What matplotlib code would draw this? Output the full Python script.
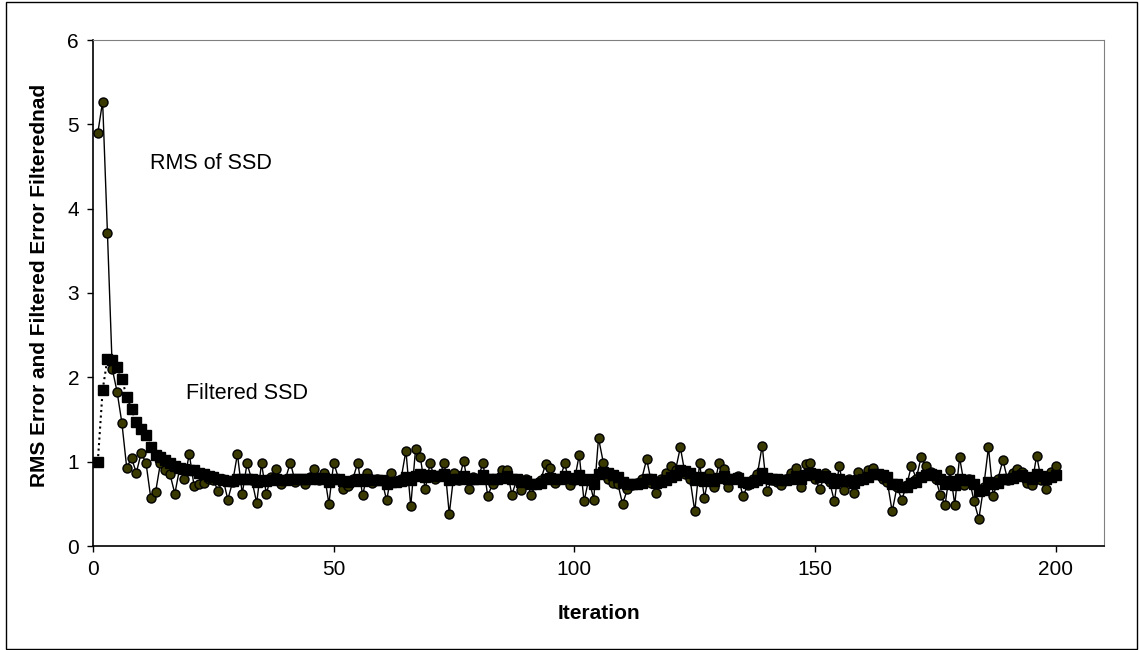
import numpy as np
import matplotlib
matplotlib.use("Agg")
from matplotlib import pyplot as plt
from matplotlib.patches import Rectangle

plt.rcParams['font.family'] = ['Liberation Sans', 'DejaVu Sans']

# raw RMS of SSD per iteration (circles)
rms_ssd = [
    4.90, 5.27, 3.71, 2.10, 1.83, 1.46, 0.93, 1.04, 0.87, 1.10,
    0.99, 0.57, 0.64, 0.98, 0.90, 0.85, 0.62, 0.92, 0.79, 1.09,
    0.71, 0.73, 0.75, 0.80, 0.78, 0.65, 0.80, 0.55, 0.76, 1.09,
    0.62, 0.98, 0.78, 0.51, 0.98, 0.62, 0.82, 0.91, 0.74, 0.80,
    0.99, 0.76, 0.80, 0.74, 0.82, 0.91, 0.78, 0.87, 0.50, 0.99,
    0.80, 0.67, 0.71, 0.80, 0.99, 0.60, 0.86, 0.75, 0.80, 0.78,
    0.54, 0.87, 0.76, 0.80, 1.13, 0.47, 1.15, 1.05, 0.67, 0.98,
    0.80, 0.84, 0.99, 0.38, 0.87, 0.78, 1.01, 0.68, 0.82, 0.80,
    0.99, 0.59, 0.74, 0.80, 0.90, 0.90, 0.61, 0.78, 0.66, 0.80,
    0.60, 0.74, 0.78, 0.97, 0.93, 0.75, 0.80, 0.98, 0.72, 0.78,
    1.08, 0.53, 0.80, 0.55, 1.28, 0.99, 0.80, 0.75, 0.74, 0.50,
    0.67, 0.72, 0.75, 0.80, 1.03, 0.75, 0.63, 0.80, 0.86, 0.95,
    0.90, 1.17, 0.85, 0.80, 0.41, 0.98, 0.57, 0.87, 0.70, 0.98,
    0.91, 0.70, 0.80, 0.83, 0.59, 0.72, 0.80, 0.85, 1.19, 0.65,
    0.78, 0.76, 0.72, 0.80, 0.87, 0.92, 0.70, 0.97, 0.99, 0.80,
    0.67, 0.86, 0.76, 0.53, 0.95, 0.66, 0.80, 0.63, 0.88, 0.79,
    0.90, 0.92, 0.85, 0.80, 0.76, 0.41, 0.70, 0.55, 0.72, 0.95,
    0.80, 1.05, 0.95, 0.88, 0.80, 0.61, 0.49, 0.90, 0.49, 1.05,
    0.72, 0.80, 0.53, 0.32, 0.70, 1.17, 0.59, 0.80, 1.02, 0.78,
    0.86, 0.91, 0.88, 0.75, 0.72, 1.07, 0.78, 0.67, 0.88, 0.95,
]

# filtered SSD (squares)
filtered_ssd = [
    1.00, 1.85, 2.22, 2.20, 2.12, 1.98, 1.77, 1.62, 1.47, 1.39,
    1.32, 1.17, 1.08, 1.05, 1.02, 0.98, 0.95, 0.93, 0.91, 0.90,
    0.90, 0.87, 0.85, 0.83, 0.82, 0.80, 0.78, 0.77, 0.77, 0.80,
    0.79, 0.80, 0.79, 0.76, 0.78, 0.77, 0.78, 0.79, 0.78, 0.78,
    0.80, 0.79, 0.80, 0.79, 0.79, 0.81, 0.80, 0.81, 0.76, 0.80,
    0.79, 0.77, 0.76, 0.77, 0.80, 0.77, 0.79, 0.78, 0.78, 0.78,
    0.74, 0.76, 0.76, 0.77, 0.82, 0.78, 0.83, 0.85, 0.82, 0.84,
    0.83, 0.83, 0.85, 0.78, 0.80, 0.79, 0.83, 0.80, 0.80, 0.80,
    0.84, 0.79, 0.79, 0.79, 0.81, 0.83, 0.79, 0.79, 0.76, 0.77,
    0.74, 0.74, 0.75, 0.79, 0.81, 0.80, 0.80, 0.83, 0.81, 0.80,
    0.84, 0.78, 0.79, 0.74, 0.85, 0.88, 0.86, 0.84, 0.82, 0.76,
    0.74, 0.74, 0.74, 0.75, 0.80, 0.79, 0.75, 0.76, 0.78, 0.82,
    0.84, 0.90, 0.89, 0.87, 0.78, 0.82, 0.77, 0.79, 0.77, 0.81,
    0.83, 0.80, 0.80, 0.81, 0.76, 0.75, 0.76, 0.78, 0.86, 0.81,
    0.80, 0.79, 0.78, 0.78, 0.80, 0.83, 0.80, 0.84, 0.87, 0.85,
    0.82, 0.83, 0.81, 0.75, 0.79, 0.77, 0.77, 0.75, 0.78, 0.79,
    0.82, 0.85, 0.85, 0.84, 0.82, 0.74, 0.73, 0.70, 0.70, 0.75,
    0.76, 0.82, 0.84, 0.85, 0.84, 0.79, 0.73, 0.77, 0.72, 0.79,
    0.78, 0.78, 0.73, 0.65, 0.66, 0.76, 0.73, 0.75, 0.80, 0.79,
    0.81, 0.83, 0.84, 0.82, 0.80, 0.85, 0.83, 0.80, 0.82, 0.84,
]

iteration = np.arange(1, len(rms_ssd) + 1)
x_ticks = [0, 50, 100, 150, 200]
y_ticks = [0, 1, 2, 3, 4, 5, 6]

fig = plt.figure(figsize=(11.39, 6.5), dpi=100)
ax = fig.add_axes([93/1139, 1 - 546/650, (1104 - 93)/1139, (546 - 40)/650])

ax.plot(iteration, rms_ssd, '-', color='black', lw=1.0,
        marker='o', ms=6.5, mfc='#3a3a00', mec='black', mew=1.0, zorder=2)
ax.plot(iteration, filtered_ssd, ':', color='black', lw=1.5,
        marker='s', ms=6.5, mfc='black', mec='black', zorder=3)

ax.set_xlim(0, 210)
ax.set_ylim(0, 6)
ax.set_xticks(x_ticks)
ax.set_yticks(y_ticks)
ax.tick_params(direction='out', length=4, width=1, labelsize=15, pad=6)

for s in ['top', 'right']:
    ax.spines[s].set_color('#808080')
for s in ['left', 'bottom']:
    ax.spines[s].set_color('black')
    ax.spines[s].set_linewidth(1.2)

ax.set_xlabel('Iteration', fontsize=15, fontweight='bold', labelpad=18)
fig.text(40/1139, 1 - 285/650, 'RMS Error and Filtered Error Filterednad',
         rotation=90, ha='center', va='center', fontsize=15, fontweight='bold')

ax.text(24.5, 4.53, 'RMS of SSD', fontsize=15.5, ha='center', va='center')
ax.text(32, 1.81, 'Filtered SSD', fontsize=15.5, ha='center', va='center')

# chart area frame
fig.patches.append(Rectangle((6/1139, 1/650), 1131/1139, 647/650,
                             transform=fig.transFigure, fill=False,
                             edgecolor='black', lw=1.0))

fig.savefig('out.png', dpi=100)
